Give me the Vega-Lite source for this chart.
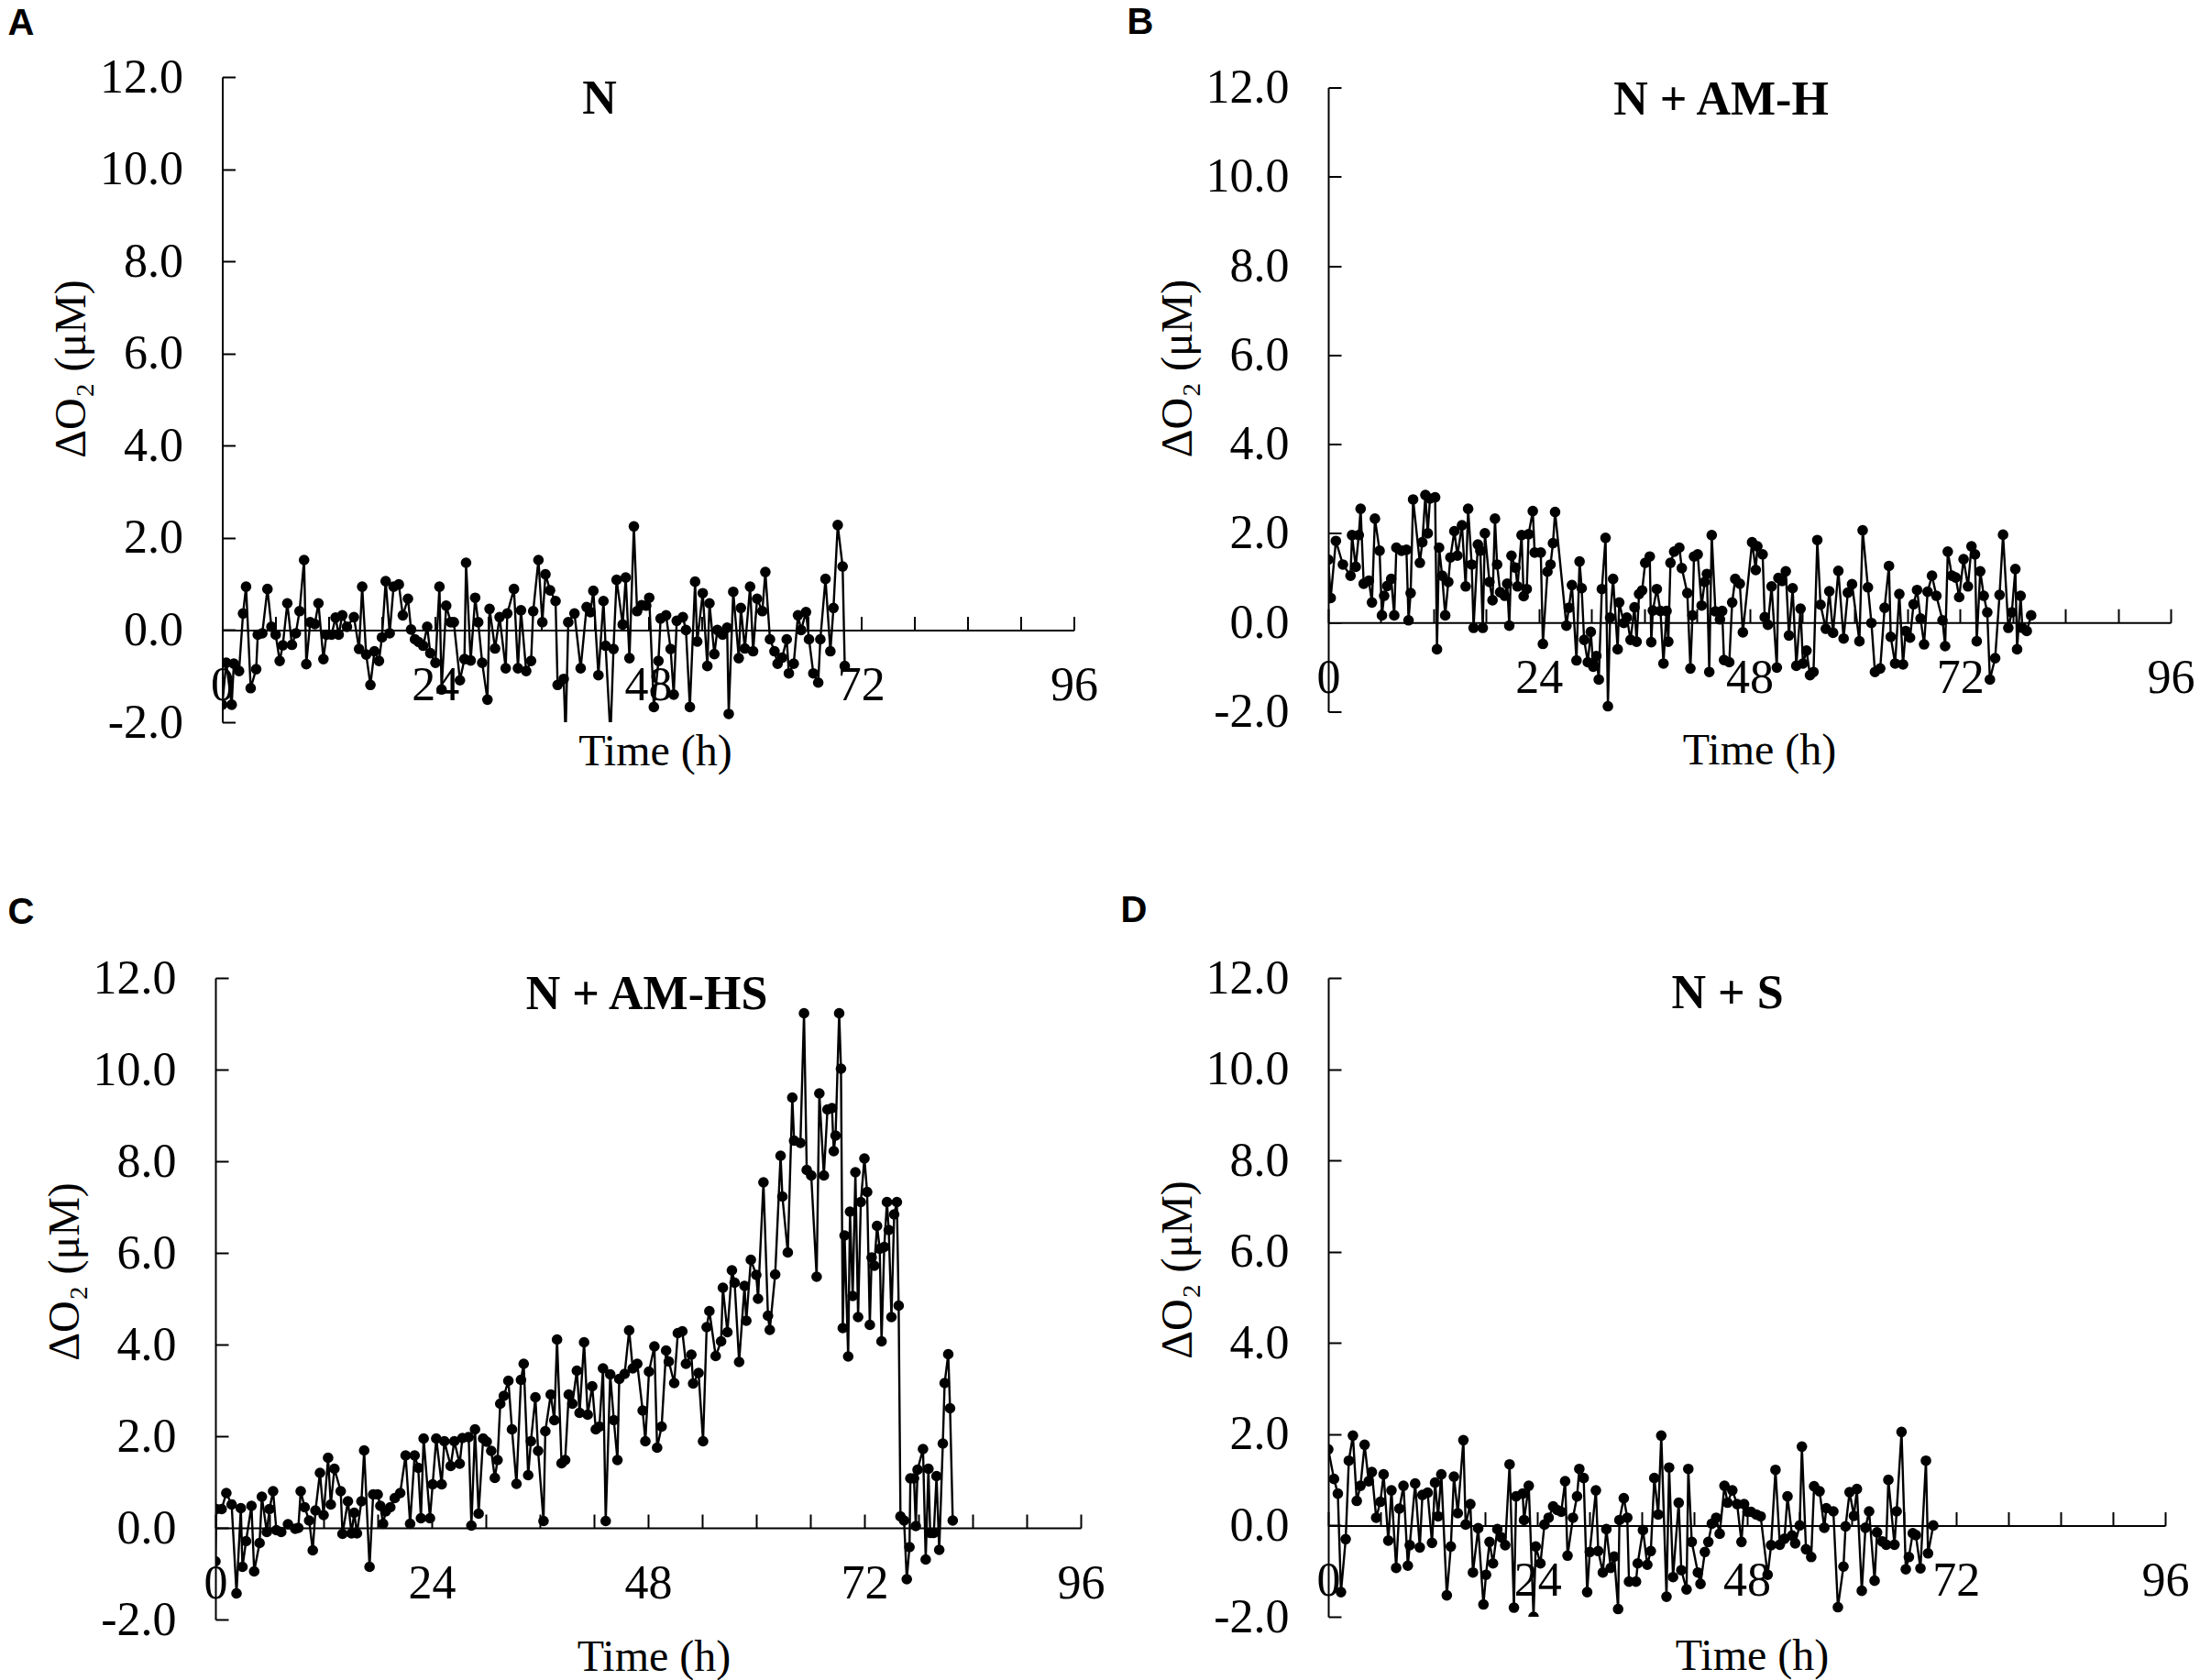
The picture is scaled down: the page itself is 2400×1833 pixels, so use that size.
{
  "$schema": "https://vega.github.io/schema/vega-lite/v6.json",
  "background": "white",
  "padding": {"left": 8, "top": 4, "right": 5, "bottom": 5},
  "columns": 2,
  "spacing": {"row": 279, "column": 270},
  "bounds": "flush",
  "center": true,
  "datasets": {
    "A": [
      {"t":0,"v":-1.62},{"t":0.44,"v":-0.71},{"t":1.06,"v":-1.62},{"t":1.3,"v":-0.73},{"t":1.89,"v":-0.89},{"t":2.34,"v":0.36},{"t":2.68,"v":0.94},{"t":3.2,"v":-1.26},{"t":3.82,"v":-0.85},{"t":4.0,"v":-0.1},
      {"t":4.51,"v":-0.07},{"t":5.09,"v":0.89},{"t":5.54,"v":0.07},{"t":6.02,"v":-0.1},{"t":6.47,"v":-0.67},{"t":6.82,"v":-0.33},{"t":7.33,"v":0.58},{"t":7.85,"v":-0.32},{"t":8.29,"v":-0.07},{"t":8.71,"v":0.41},
      {"t":9.22,"v":1.52},{"t":9.47,"v":-0.74},{"t":9.91,"v":0.17},{"t":10.43,"v":0.13},{"t":10.84,"v":0.58},{"t":11.4,"v":-0.63},{"t":11.74,"v":-0.1},{"t":12.32,"v":-0.1},{"t":12.77,"v":0.27},{"t":13.12,"v":-0.1},
      {"t":13.53,"v":0.32},{"t":14.05,"v":0.07},{"t":14.84,"v":0.28},{"t":15.42,"v":-0.41},{"t":15.77,"v":0.94},{"t":16.22,"v":-0.53},{"t":16.7,"v":-1.19},{"t":17.15,"v":-0.46},{"t":17.66,"v":-0.67},{"t":18.0,"v":-0.16},
      {"t":18.42,"v":1.06},{"t":18.87,"v":-0.07},{"t":19.31,"v":0.94},{"t":19.9,"v":0.99},{"t":20.35,"v":0.32},{"t":20.93,"v":0.68},{"t":21.28,"v":0.01},{"t":21.72,"v":-0.2},{"t":22.14,"v":-0.26},{"t":22.65,"v":-0.34},
      {"t":23.1,"v":0.07},{"t":23.45,"v":-0.5},{"t":24.03,"v":-0.71},{"t":24.48,"v":0.94},{"t":24.72,"v":-1.29},{"t":25.24,"v":0.53},{"t":25.75,"v":0.17},{"t":26.1,"v":0.17},{"t":26.79,"v":-1.09},{"t":27.3,"v":-0.63},
      {"t":27.48,"v":1.46},{"t":28.0,"v":-0.66},{"t":28.51,"v":0.7},{"t":28.85,"v":0.17},{"t":29.3,"v":-0.71},{"t":29.89,"v":-1.51},{"t":30.13,"v":0.46},{"t":30.75,"v":-0.4},{"t":31.26,"v":0.28},{"t":31.95,"v":-0.83},
      {"t":32.13,"v":0.36},{"t":32.88,"v":0.89},{"t":33.33,"v":-0.83},{"t":33.67,"v":0.43},{"t":34.26,"v":-0.89},{"t":34.81,"v":-0.67},{"t":35.05,"v":0.41},{"t":35.64,"v":1.52},{"t":36.08,"v":0.17},{"t":36.43,"v":1.21},
      {"t":36.95,"v":0.86},{"t":37.57,"v":0.63},{"t":37.8,"v":-1.19},{"t":38.49,"v":-1.06},{"t":38.7,"v":-2.3},{"t":39.0,"v":0.17},{"t":39.7,"v":0.36},{"t":40.4,"v":-0.83},{"t":41.07,"v":0.5},{"t":41.5,"v":0.39},
      {"t":41.83,"v":0.85},{"t":42.4,"v":-0.98},{"t":42.97,"v":0.63},{"t":43.21,"v":-0.34},{"t":43.76,"v":-2.3},{"t":44.1,"v":-0.41},{"t":44.45,"v":1.09},{"t":45.14,"v":0.12},{"t":45.48,"v":1.14},{"t":45.9,"v":-0.61},
      {"t":46.4,"v":2.25},{"t":46.76,"v":0.41},{"t":47.27,"v":0.54},{"t":47.79,"v":0.53},{"t":48.13,"v":0.7},{"t":48.65,"v":-1.67},{"t":49.17,"v":-0.67},{"t":49.41,"v":0.25},{"t":50.03,"v":0.32},{"t":50.54,"v":-0.41},
      {"t":50.89,"v":-1.4},{"t":51.23,"v":0.2},{"t":51.92,"v":0.28},{"t":52.27,"v":0.0},{"t":52.71,"v":-1.67},{"t":53.3,"v":1.05},{"t":53.54,"v":-0.25},{"t":54.16,"v":0.8},{"t":54.68,"v":-0.78},{"t":54.92,"v":0.58},
      {"t":55.47,"v":-0.52},{"t":55.81,"v":0.0},{"t":56.4,"v":-0.1},{"t":56.91,"v":0.05},{"t":57.09,"v":-1.82},{"t":57.6,"v":0.83},{"t":58.22,"v":-0.61},{"t":58.46,"v":0.48},{"t":58.91,"v":-0.4},{"t":59.5,"v":0.94},
      {"t":59.84,"v":-0.46},{"t":60.29,"v":0.68},{"t":60.88,"v":0.41},{"t":61.22,"v":1.26},{"t":61.74,"v":-0.2},{"t":62.25,"v":-0.46},{"t":62.6,"v":-0.73},{"t":63.11,"v":-0.6},{"t":63.63,"v":-0.2},{"t":63.87,"v":-0.94},
      {"t":64.42,"v":-0.73},{"t":64.9,"v":0.32},{"t":65.25,"v":0.0},{"t":65.8,"v":0.39},{"t":66.14,"v":-0.2},{"t":66.63,"v":-0.94},{"t":67.18,"v":-1.14},{"t":67.42,"v":-0.2},{"t":68.0,"v":1.11},{"t":68.55,"v":-0.46},
      {"t":68.9,"v":0.48},{"t":69.38,"v":2.28},{"t":69.93,"v":1.38},{"t":70.17,"v":-0.78}
    ],
    "B": [
      {"t":0,"v":1.41},{"t":0.28,"v":0.55},{"t":0.87,"v":1.83},{"t":1.67,"v":1.3},{"t":2.54,"v":1.05},{"t":2.71,"v":1.96},{"t":3.13,"v":1.25},{"t":3.48,"v":1.96},{"t":3.69,"v":2.55},{"t":4.04,"v":0.87},
      {"t":4.63,"v":0.94},{"t":4.98,"v":0.45},{"t":5.32,"v":2.33},{"t":5.85,"v":1.61},{"t":6.12,"v":0.16},{"t":6.37,"v":0.6},{"t":6.72,"v":0.82},{"t":7.17,"v":0.98},{"t":7.52,"v":0.16},{"t":7.76,"v":1.68},
      {"t":8.35,"v":1.61},{"t":8.91,"v":1.63},{"t":9.15,"v":0.05},{"t":9.39,"v":0.66},{"t":9.67,"v":2.76},{"t":10.44,"v":1.34},{"t":10.72,"v":1.8},{"t":11.07,"v":2.86},{"t":11.34,"v":2.0},{"t":11.59,"v":2.78},
      {"t":12.18,"v":2.81},{"t":12.39,"v":-0.6},{"t":12.63,"v":1.68},{"t":12.98,"v":1.05},{"t":13.33,"v":0.16},{"t":13.68,"v":0.91},{"t":13.92,"v":1.46},{"t":14.37,"v":2.05},{"t":14.72,"v":1.5},{"t":15.24,"v":2.18},
      {"t":15.66,"v":0.81},{"t":15.94,"v":2.55},{"t":16.35,"v":1.3},{"t":16.56,"v":-0.12},{"t":17.05,"v":1.75},{"t":17.33,"v":1.61},{"t":17.61,"v":-0.12},{"t":17.85,"v":2.0},{"t":18.37,"v":0.91},{"t":18.72,"v":0.5},
      {"t":19.0,"v":2.33},{"t":19.24,"v":1.3},{"t":19.59,"v":0.68},{"t":20.11,"v":0.6},{"t":20.39,"v":0.87},{"t":20.63,"v":-0.07},{"t":20.88,"v":1.5},{"t":21.33,"v":1.23},{"t":21.57,"v":0.81},{"t":22.03,"v":1.96},
      {"t":22.27,"v":0.59},{"t":22.62,"v":0.75},{"t":22.83,"v":1.98},{"t":23.31,"v":2.5},{"t":23.52,"v":1.57},{"t":24.22,"v":1.57},{"t":24.46,"v":-0.48},{"t":24.98,"v":1.14},{"t":25.33,"v":1.3},{"t":25.61,"v":1.78},
      {"t":25.85,"v":2.48},{"t":27.14,"v":-0.07},{"t":27.42,"v":0.33},{"t":27.77,"v":0.84},{"t":28.29,"v":-0.85},{"t":28.64,"v":1.37},{"t":28.88,"v":0.77},{"t":29.16,"v":-0.39},{"t":29.58,"v":-0.89},{"t":29.92,"v":-0.21},
      {"t":30.2,"v":-0.99},{"t":30.55,"v":-0.75},{"t":30.83,"v":-1.28},{"t":31.18,"v":0.75},{"t":31.6,"v":1.9},{"t":31.87,"v":-1.88},{"t":32.12,"v":0.11},{"t":32.46,"v":0.98},{"t":32.98,"v":-0.6},{"t":33.16,"v":0.45},
      {"t":33.68,"v":-0.01},{"t":34.03,"v":0.11},{"t":34.45,"v":-0.39},{"t":34.9,"v":0.34},{"t":35.14,"v":-0.43},{"t":35.42,"v":0.64},{"t":35.77,"v":0.72},{"t":36.12,"v":1.34},{"t":36.64,"v":1.48},{"t":36.81,"v":-0.44},
      {"t":36.99,"v":0.27},{"t":37.44,"v":0.75},{"t":37.86,"v":0.26},{"t":38.2,"v":-0.92},{"t":38.55,"v":0.26},{"t":38.75,"v":-0.43},{"t":39.0,"v":1.34},{"t":39.42,"v":1.59},{"t":40.01,"v":1.68},{"t":40.29,"v":1.22},
      {"t":40.92,"v":0.66},{"t":41.27,"v":-1.03},{"t":41.51,"v":0.16},{"t":41.68,"v":1.48},{"t":42.1,"v":1.53},{"t":42.55,"v":0.38},{"t":42.9,"v":0.91},{"t":43.15,"v":1.09},{"t":43.42,"v":-1.11},{"t":43.7,"v":1.96},
      {"t":44.12,"v":0.25},{"t":44.64,"v":0.07},{"t":44.89,"v":0.26},{"t":45.1,"v":-0.84},{"t":45.7,"v":-0.89},{"t":46.03,"v":0.45},{"t":46.38,"v":0.98},{"t":46.9,"v":0.87},{"t":47.25,"v":-0.22},{"t":48.3,"v":1.8},
      {"t":48.72,"v":1.18},{"t":48.9,"v":1.71},{"t":49.5,"v":1.53},{"t":49.74,"v":0.12},{"t":50.1,"v":-0.05},{"t":50.52,"v":0.81},{"t":51.12,"v":-1.01},{"t":51.3,"v":1.0},{"t":51.72,"v":0.93},{"t":52.14,"v":1.15},
      {"t":52.5,"v":-0.29},{"t":52.92,"v":0.77},{"t":53.34,"v":-0.97},{"t":53.82,"v":0.31},{"t":54.1,"v":-0.92},{"t":54.5,"v":-0.63},{"t":54.9,"v":-1.18},{"t":55.3,"v":-1.11},{"t":55.73,"v":1.85},{"t":56.1,"v":0.4},
      {"t":56.7,"v":-0.14},{"t":57.1,"v":0.7},{"t":57.53,"v":-0.23},{"t":58.13,"v":1.16},{"t":58.73,"v":-0.36},{"t":59.21,"v":0.67},{"t":59.69,"v":0.86},{"t":60.53,"v":-0.42},{"t":60.9,"v":2.07},{"t":61.5,"v":0.79},
      {"t":61.9,"v":-0.01},{"t":62.3,"v":-1.11},{"t":62.9,"v":-1.03},{"t":63.4,"v":0.33},{"t":63.9,"v":1.27},{"t":64.1,"v":-0.32},{"t":64.6,"v":-0.92},{"t":65.08,"v":0.64},{"t":65.5,"v":-0.94},{"t":65.8,"v":-0.19},
      {"t":66.3,"v":-0.34},{"t":66.7,"v":0.41},{"t":67.1,"v":0.73},{"t":67.5,"v":0.09},{"t":67.9,"v":-0.49},{"t":68.3,"v":0.69},{"t":68.8,"v":1.05},{"t":69.3,"v":0.6},{"t":70.0,"v":0.05},{"t":70.3,"v":-0.53},
      {"t":70.6,"v":1.59},{"t":71.07,"v":1.05},{"t":71.5,"v":1.01},{"t":71.9,"v":0.57},{"t":72.4,"v":1.42},{"t":72.9,"v":0.81},{"t":73.3,"v":1.71},{"t":73.7,"v":1.53},{"t":73.9,"v":-0.42},{"t":74.3,"v":1.15},
      {"t":74.7,"v":0.6},{"t":75.1,"v":0.23},{"t":75.4,"v":-1.28},{"t":76.0,"v":-0.8},{"t":76.5,"v":0.62},{"t":76.9,"v":1.97},{"t":77.5,"v":-0.12},{"t":77.9,"v":0.23},{"t":78.3,"v":1.2},{"t":78.5,"v":-0.6},
      {"t":78.9,"v":0.6},{"t":79.1,"v":-0.12},{"t":79.6,"v":-0.19},{"t":80.1,"v":0.16}
    ],
    "C": [
      {"t":0,"v":-0.73},{"t":0.1,"v":0.41},{"t":0.69,"v":0.41},{"t":1.21,"v":0.76},{"t":1.8,"v":0.51},{"t":2.34,"v":-1.43},{"t":2.82,"v":0.43},{"t":3.0,"v":-0.85},{"t":3.4,"v":-0.29},{"t":4.0,"v":0.48},
      {"t":4.3,"v":-0.95},{"t":4.9,"v":-0.33},{"t":5.15,"v":0.68},{"t":5.7,"v":-0.09},{"t":6.0,"v":0.41},{"t":6.4,"v":0.8},{"t":6.76,"v":-0.05},{"t":7.3,"v":-0.09},{"t":8.05,"v":0.08},{"t":8.85,"v":-0.02},
      {"t":9.2,"v":0.0},{"t":9.46,"v":0.8},{"t":9.9,"v":0.45},{"t":10.4,"v":0.16},{"t":10.8,"v":-0.49},{"t":11.1,"v":0.38},{"t":11.6,"v":1.2},{"t":12.0,"v":0.28},{"t":12.5,"v":1.53},{"t":12.8,"v":0.51},
      {"t":13.2,"v":1.29},{"t":13.9,"v":0.8},{"t":14.1,"v":-0.13},{"t":14.7,"v":0.58},{"t":15.1,"v":-0.12},{"t":15.4,"v":0.33},{"t":15.7,"v":-0.12},{"t":16.2,"v":0.58},{"t":16.5,"v":1.69},{"t":17.1,"v":-0.85},
      {"t":17.5,"v":0.73},{"t":18.0,"v":0.73},{"t":18.3,"v":0.48},{"t":18.6,"v":0.09},{"t":18.9,"v":0.36},{"t":19.4,"v":0.45},{"t":19.9,"v":0.65},{"t":20.5,"v":0.76},{"t":21.1,"v":1.58},{"t":21.6,"v":0.09},
      {"t":22.1,"v":1.58},{"t":22.5,"v":1.31},{"t":22.8,"v":0.21},{"t":23.1,"v":1.95},{"t":23.8,"v":0.21},{"t":24.1,"v":0.95},{"t":24.5,"v":1.95},{"t":25.1,"v":0.95},{"t":25.4,"v":1.89},{"t":26.1,"v":1.35},
      {"t":26.5,"v":1.89},{"t":27.1,"v":1.4},{"t":27.4,"v":1.96},{"t":28.1,"v":1.98},{"t":28.4,"v":0.05},{"t":28.8,"v":2.15},{"t":29.2,"v":0.31},{"t":29.7,"v":1.95},{"t":30.1,"v":1.88},{"t":30.6,"v":1.68},
      {"t":31.0,"v":1.09},{"t":31.3,"v":1.48},{"t":31.6,"v":2.71},{"t":32.0,"v":2.88},{"t":32.5,"v":3.21},{"t":32.9,"v":2.15},{"t":33.4,"v":0.96},{"t":33.9,"v":3.23},{"t":34.2,"v":3.58},{"t":34.7,"v":1.15},
      {"t":35.0,"v":1.89},{"t":35.5,"v":2.85},{"t":35.8,"v":1.68},{"t":36.4,"v":0.15},{"t":36.6,"v":2.11},{"t":37.2,"v":2.91},{"t":37.6,"v":2.35},{"t":37.9,"v":4.11},{"t":38.4,"v":1.41},{"t":38.8,"v":1.48},
      {"t":39.2,"v":2.91},{"t":39.6,"v":2.71},{"t":40.1,"v":3.43},{"t":40.4,"v":2.51},{"t":40.9,"v":4.05},{"t":41.3,"v":2.47},{"t":41.8,"v":3.09},{"t":42.2,"v":2.15},{"t":42.6,"v":2.21},{"t":43.0,"v":3.48},
      {"t":43.3,"v":0.15},{"t":43.8,"v":3.35},{"t":44.2,"v":2.35},{"t":44.6,"v":1.48},{"t":44.8,"v":3.25},{"t":45.4,"v":3.36},{"t":45.9,"v":4.31},{"t":46.3,"v":3.48},{"t":46.8,"v":3.58},{"t":47.4,"v":2.56},
      {"t":47.7,"v":1.89},{"t":48.1,"v":3.41},{"t":48.7,"v":3.96},{"t":49.0,"v":1.75},{"t":49.5,"v":2.21},{"t":50.0,"v":3.87},{"t":50.3,"v":3.63},{"t":50.9,"v":3.16},{"t":51.3,"v":4.25},{"t":51.8,"v":4.29},
      {"t":52.2,"v":3.58},{"t":52.8,"v":3.78},{"t":53.0,"v":3.15},{"t":53.6,"v":3.38},{"t":54.1,"v":1.89},{"t":54.5,"v":4.38},{"t":54.8,"v":4.73},{"t":55.5,"v":3.75},{"t":56.1,"v":4.07},{"t":56.3,"v":5.24},
      {"t":56.8,"v":4.27},{"t":57.3,"v":5.62},{"t":57.6,"v":5.35},{"t":58.1,"v":3.62},{"t":58.7,"v":5.28},{"t":58.9,"v":4.52},{"t":59.4,"v":5.85},{"t":60.0,"v":5.52},{"t":60.2,"v":5.0},{"t":60.8,"v":7.54},
      {"t":61.3,"v":4.63},{"t":61.5,"v":4.32},{"t":62.1,"v":5.53},{"t":62.7,"v":8.12},{"t":62.9,"v":7.23},{"t":63.5,"v":6.01},{"t":64.0,"v":9.39},{"t":64.2,"v":8.45},{"t":64.9,"v":8.4},{"t":65.3,"v":11.23},
      {"t":65.6,"v":7.81},{"t":66.1,"v":7.69},{"t":66.7,"v":5.48},{"t":67.0,"v":9.48},{"t":67.5,"v":7.69},{"t":67.9,"v":9.13},{"t":68.4,"v":9.16},{"t":68.6,"v":8.22},{"t":68.8,"v":8.56},{"t":69.2,"v":11.23},
      {"t":69.4,"v":10.02},{"t":69.6,"v":4.36},{"t":69.8,"v":6.38},{"t":70.2,"v":3.74},{"t":70.4,"v":6.9},{"t":70.7,"v":5.06},{"t":71.0,"v":7.76},{"t":71.3,"v":4.6},{"t":71.6,"v":7.11},{"t":72.0,"v":8.06},
      {"t":72.3,"v":7.33},{"t":72.6,"v":4.43},{"t":72.8,"v":5.9},{"t":73.1,"v":5.72},{"t":73.4,"v":6.59},{"t":73.7,"v":6.09},{"t":73.9,"v":4.07},{"t":74.2,"v":6.13},{"t":74.5,"v":7.11},{"t":74.7,"v":6.5},
      {"t":75.0,"v":4.6},{"t":75.3,"v":6.84},{"t":75.6,"v":7.11},{"t":75.8,"v":4.85},{"t":76.0,"v":0.25},{"t":76.4,"v":0.16},{"t":76.7,"v":-1.12},{"t":77.0,"v":-0.42},{"t":77.1,"v":1.08},{"t":77.5,"v":1.08},
      {"t":77.7,"v":0.04},{"t":77.9,"v":1.27},{"t":78.5,"v":1.72},{"t":78.8,"v":-0.69},{"t":79.1,"v":1.29},{"t":79.3,"v":-0.11},{"t":79.7,"v":-0.11},{"t":80.0,"v":1.13},{"t":80.3,"v":-0.48},{"t":80.7,"v":1.84},
      {"t":80.9,"v":3.16},{"t":81.3,"v":3.79},{"t":81.5,"v":2.61},{"t":81.8,"v":0.16}
    ],
    "D": [
      {"t":0,"v":1.67},{"t":0.66,"v":1.02},{"t":1.1,"v":0.7},{"t":1.46,"v":-1.46},{"t":2.0,"v":-0.3},{"t":2.36,"v":1.42},{"t":2.83,"v":1.97},{"t":3.27,"v":0.54},{"t":3.7,"v":0.87},{"t":4.17,"v":1.77},
      {"t":4.64,"v":0.97},{"t":5.0,"v":1.17},{"t":5.5,"v":0.17},{"t":5.98,"v":0.52},{"t":6.35,"v":1.12},{"t":6.89,"v":-0.33},{"t":7.25,"v":0.77},{"t":7.79,"v":-0.93},{"t":8.16,"v":0.37},{"t":8.63,"v":0.87},
      {"t":9.13,"v":-0.88},{"t":9.35,"v":-0.43},{"t":9.97,"v":0.92},{"t":10.5,"v":-0.48},{"t":10.8,"v":0.67},{"t":11.4,"v":0.72},{"t":11.9,"v":-0.38},{"t":12.25,"v":0.94},{"t":12.6,"v":0.2},{"t":12.97,"v":1.12},
      {"t":13.6,"v":-1.53},{"t":14.06,"v":-0.46},{"t":14.42,"v":1.07},{"t":14.86,"v":0.27},{"t":15.5,"v":1.87},{"t":15.76,"v":0.02},{"t":16.3,"v":0.47},{"t":16.6,"v":-1.03},{"t":17.2,"v":-0.06},{"t":17.8,"v":-1.73},
      {"t":18.1,"v":-1.08},{"t":18.5,"v":-0.36},{"t":18.9,"v":-0.83},{"t":19.4,"v":-0.08},{"t":19.85,"v":-0.26},{"t":20.3,"v":-0.43},{"t":20.8,"v":1.34},{"t":21.3,"v":-1.8},{"t":21.55,"v":0.64},{"t":22.3,"v":0.7},
      {"t":22.46,"v":0.12},{"t":23.0,"v":0.87},{"t":23.55,"v":-2.0},{"t":23.8,"v":-0.46},{"t":24.34,"v":-0.83},{"t":24.8,"v":0.02},{"t":25.28,"v":0.17},{"t":25.8,"v":0.42},{"t":26.26,"v":0.34},{"t":26.73,"v":0.3},
      {"t":27.17,"v":0.97},{"t":27.45,"v":-0.66},{"t":28.07,"v":0.17},{"t":28.54,"v":0.64},{"t":28.8,"v":1.24},{"t":29.3,"v":1.04},{"t":29.7,"v":-1.46},{"t":30.0,"v":-0.58},{"t":30.7,"v":0.77},{"t":30.97,"v":-0.56},
      {"t":31.5,"v":-1.03},{"t":31.9,"v":-0.08},{"t":32.4,"v":-0.93},{"t":32.8,"v":-0.68},{"t":33.25,"v":-1.83},{"t":33.4,"v":0.12},{"t":33.9,"v":0.6},{"t":34.3,"v":0.17},{"t":34.5,"v":-1.23},{"t":35.3,"v":-1.23},
      {"t":35.5,"v":-0.83},{"t":36.1,"v":-0.1},{"t":36.6,"v":-0.86},{"t":37.0,"v":-0.56},{"t":37.4,"v":1.04},{"t":37.85,"v":0.24},{"t":38.2,"v":1.97},{"t":38.8,"v":-1.56},{"t":39.1,"v":1.27},{"t":39.55,"v":-1.13},
      {"t":40.2,"v":0.5},{"t":40.5,"v":-0.98},{"t":41.1,"v":-1.4},{"t":41.3,"v":1.24},{"t":41.7,"v":-0.36},{"t":42.4,"v":-1.03},{"t":42.7,"v":-1.28},{"t":43.2,"v":-0.58},{"t":43.6,"v":-0.36},{"t":44.0,"v":0.04},
      {"t":44.5,"v":0.17},{"t":44.9,"v":-0.18},{"t":45.45,"v":0.87},{"t":45.8,"v":0.5},{"t":46.35,"v":0.77},{"t":46.9,"v":0.47},{"t":47.4,"v":-0.36},{"t":47.7,"v":0.47},{"t":48.1,"v":0.3},{"t":48.5,"v":0.3},
      {"t":49.1,"v":0.24},{"t":49.6,"v":0.2},{"t":50.4,"v":-1.08},{"t":50.8,"v":-0.43},{"t":51.3,"v":1.22},{"t":51.8,"v":-0.42},{"t":52.33,"v":-0.29},{"t":52.68,"v":0.64},{"t":53.2,"v":-0.22},{"t":53.56,"v":-0.39},
      {"t":54.08,"v":0.0},{"t":54.33,"v":1.73},{"t":54.8,"v":-0.52},{"t":55.4,"v":-0.69},{"t":55.73,"v":0.86},{"t":56.36,"v":0.75},{"t":56.9,"v":-0.05},{"t":57.13,"v":0.38},{"t":57.94,"v":0.31},{"t":58.46,"v":-1.79},
      {"t":59.1,"v":-0.9},{"t":59.34,"v":-0.02},{"t":59.8,"v":0.73},{"t":60.3,"v":0.21},{"t":60.64,"v":0.8},{"t":61.2,"v":-1.43},{"t":61.62,"v":-0.05},{"t":62.04,"v":0.31},{"t":62.67,"v":-1.21},{"t":62.95,"v":-0.15},
      {"t":63.55,"v":-0.35},{"t":64.0,"v":-0.42},{"t":64.25,"v":1.0},{"t":64.95,"v":-0.42},{"t":65.2,"v":0.31},{"t":65.76,"v":2.05},{"t":66.25,"v":-0.96},{"t":66.6,"v":-0.69},{"t":67.05,"v":-0.17},{"t":67.4,"v":-0.21},
      {"t":67.93,"v":-0.94},{"t":68.56,"v":1.42},{"t":68.8,"v":-0.61},{"t":69.4,"v":0.0}
    ]
  },
  "concat": [
    {
      "width": 929, "height": 704,
      "data": {"name": "A"},
      "layer": [
        {"mark": {"type": "line", "color": "black", "strokeWidth": 2.4, "clip": true},
         "encoding": {
           "x": {"field": "t", "type": "quantitative", "scale": {"domain": [0, 96], "nice": false},
             "axis": {"orient": "bottom", "offset": -100.57, "values": [0,6,12,18,24,30,36,42,48,54,60,66,72,78,84,90,96], "tickSize": -15, "labelPadding": 50, "labelBaseline": "top", "labelFlush": false, "labelExpr": "datum.value % 24 === 0 ? datum.label : ''", "title": "Time (h)", "titleX": 472, "titleY": 147, "titleBaseline": "alphabetic", "titleAlign": "center"}},
           "y": {"field": "v", "type": "quantitative", "scale": {"domain": [-2, 12], "nice": false, "zero": false},
             "axis": {"orient": "left", "values": [-2,0,2,4,6,8,10,12], "tickSize": -14, "labelPadding": 57, "labelExpr": "(datum.value < 0 ? '-' : '') + format(abs(datum.value), '.1f')", "title": "ΔO₂ (μM)", "titleX": -164, "titleY": 318, "titleAngle": -90, "titleBaseline": "middle", "titleAlign": "center"}}
         }},
        {"mark": {"type": "point", "filled": true, "color": "black", "opacity": 1, "size": 135, "clip": true},
         "encoding": {
           "x": {"field": "t", "type": "quantitative",
             "axis": {"orient": "top", "domain": false, "ticks": false, "labels": false, "title": "N", "titleFontWeight": "bold", "titleFontSize": 52, "titleX": 411, "titleY": 39, "titleBaseline": "alphabetic", "titleAlign": "center"}},
           "y": {"field": "v", "type": "quantitative",
             "axis": {"orient": "right", "domain": false, "ticks": false, "labels": false, "title": "A", "titleFont": "Liberation Sans", "titleFontWeight": "bold", "titleFontSize": 40, "titleAngle": 0, "titleX": -1163.5, "titleY": -47, "titleAlign": "left", "titleBaseline": "alphabetic"}}
         }}
      ],
      "resolve": {"axis": {"x": "independent", "y": "independent"}}
    },
    {
      "width": 919, "height": 681,
      "data": {"name": "B"},
      "layer": [
        {"mark": {"type": "line", "color": "black", "strokeWidth": 2.4, "clip": true},
         "encoding": {
           "x": {"field": "t", "type": "quantitative", "scale": {"domain": [0, 96], "nice": false},
             "axis": {"orient": "bottom", "offset": -97.29, "values": [0,6,12,18,24,30,36,42,48,54,60,66,72,78,84,90,96], "tickSize": -15, "labelPadding": 50, "labelBaseline": "top", "labelFlush": false, "labelExpr": "datum.value % 24 === 0 ? datum.label : ''", "title": "Time (h)", "titleX": 470, "titleY": 154, "titleBaseline": "alphabetic", "titleAlign": "center"}},
           "y": {"field": "v", "type": "quantitative", "scale": {"domain": [-2, 12], "nice": false, "zero": false},
             "axis": {"orient": "left", "values": [-2,0,2,4,6,8,10,12], "tickSize": -14, "labelPadding": 57, "labelExpr": "(datum.value < 0 ? '-' : '') + format(abs(datum.value), '.1f')", "title": "ΔO₂ (μM)", "titleX": -164, "titleY": 306, "titleAngle": -90, "titleBaseline": "middle", "titleAlign": "center"}}
         }},
        {"mark": {"type": "point", "filled": true, "color": "black", "opacity": 1, "size": 135, "clip": true},
         "encoding": {
           "x": {"field": "t", "type": "quantitative",
             "axis": {"orient": "top", "domain": false, "ticks": false, "labels": false, "title": "N + AM-H", "titleFontWeight": "bold", "titleFontSize": 52, "titleX": 428, "titleY": 29, "titleBaseline": "alphabetic", "titleAlign": "center"}},
           "y": {"field": "v", "type": "quantitative",
             "axis": {"orient": "right", "domain": false, "ticks": false, "labels": false, "title": "B", "titleFont": "Liberation Sans", "titleFontWeight": "bold", "titleFontSize": 40, "titleAngle": 0, "titleX": -1139, "titleY": -58.8, "titleAlign": "left", "titleBaseline": "alphabetic"}}
         }}
      ],
      "resolve": {"axis": {"x": "independent", "y": "independent"}}
    },
    {
      "width": 944, "height": 700,
      "data": {"name": "C"},
      "layer": [
        {"mark": {"type": "line", "color": "black", "strokeWidth": 2.4, "clip": true},
         "encoding": {
           "x": {"field": "t", "type": "quantitative", "scale": {"domain": [0, 96], "nice": false},
             "axis": {"orient": "bottom", "offset": -100, "values": [0,6,12,18,24,30,36,42,48,54,60,66,72,78,84,90,96], "tickSize": -15, "labelPadding": 50, "labelBaseline": "top", "labelFlush": false, "labelExpr": "datum.value % 24 === 0 ? datum.label : ''", "title": "Time (h)", "titleX": 478, "titleY": 155, "titleBaseline": "alphabetic", "titleAlign": "center"}},
           "y": {"field": "v", "type": "quantitative", "scale": {"domain": [-2, 12], "nice": false, "zero": false},
             "axis": {"orient": "left", "values": [-2,0,2,4,6,8,10,12], "tickSize": -14, "labelPadding": 57, "labelExpr": "(datum.value < 0 ? '-' : '') + format(abs(datum.value), '.1f')", "title": "ΔO₂ (μM)", "titleX": -164, "titleY": 320, "titleAngle": -90, "titleBaseline": "middle", "titleAlign": "center"}}
         }},
        {"mark": {"type": "point", "filled": true, "color": "black", "opacity": 1, "size": 135, "clip": true},
         "encoding": {
           "x": {"field": "t", "type": "quantitative",
             "axis": {"orient": "top", "domain": false, "ticks": false, "labels": false, "title": "N + AM-HS", "titleFontWeight": "bold", "titleFontSize": 52, "titleX": 470, "titleY": 33, "titleBaseline": "alphabetic", "titleAlign": "center"}},
           "y": {"field": "v", "type": "quantitative",
             "axis": {"orient": "right", "domain": false, "ticks": false, "labels": false, "title": "C", "titleFont": "Liberation Sans", "titleFontWeight": "bold", "titleFontSize": 40, "titleAngle": 0, "titleX": -1171, "titleY": -60, "titleAlign": "left", "titleBaseline": "alphabetic"}}
         }}
      ],
      "resolve": {"axis": {"x": "independent", "y": "independent"}}
    },
    {
      "width": 913, "height": 697,
      "data": {"name": "D"},
      "layer": [
        {"mark": {"type": "line", "color": "black", "strokeWidth": 2.4, "clip": true},
         "encoding": {
           "x": {"field": "t", "type": "quantitative", "scale": {"domain": [0, 96], "nice": false},
             "axis": {"orient": "bottom", "offset": -99.57, "values": [0,6,12,18,24,30,36,42,48,54,60,66,72,78,84,90,96], "tickSize": -15, "labelPadding": 50, "labelBaseline": "top", "labelFlush": false, "labelExpr": "datum.value % 24 === 0 ? datum.label : ''", "title": "Time (h)", "titleX": 462, "titleY": 157, "titleBaseline": "alphabetic", "titleAlign": "center"}},
           "y": {"field": "v", "type": "quantitative", "scale": {"domain": [-2, 12], "nice": false, "zero": false},
             "axis": {"orient": "left", "values": [-2,0,2,4,6,8,10,12], "tickSize": -14, "labelPadding": 57, "labelExpr": "(datum.value < 0 ? '-' : '') + format(abs(datum.value), '.1f')", "title": "ΔO₂ (μM)", "titleX": -164, "titleY": 318, "titleAngle": -90, "titleBaseline": "middle", "titleAlign": "center"}}
         }},
        {"mark": {"type": "point", "filled": true, "color": "black", "opacity": 1, "size": 135, "clip": true},
         "encoding": {
           "x": {"field": "t", "type": "quantitative",
             "axis": {"orient": "top", "domain": false, "ticks": false, "labels": false, "title": "N + S", "titleFontWeight": "bold", "titleFontSize": 52, "titleX": 435, "titleY": 32, "titleBaseline": "alphabetic", "titleAlign": "center"}},
           "y": {"field": "v", "type": "quantitative",
             "axis": {"orient": "right", "domain": false, "ticks": false, "labels": false, "title": "D", "titleFont": "Liberation Sans", "titleFontWeight": "bold", "titleFontSize": 40, "titleAngle": 0, "titleX": -1140, "titleY": -61.5, "titleAlign": "left", "titleBaseline": "alphabetic"}}
         }}
      ],
      "resolve": {"axis": {"x": "independent", "y": "independent"}}
    }
  ],
  "config": {
    "view": {"stroke": null},
    "axis": {
      "grid": false,
      "domainColor": "black",
      "domainWidth": 2,
      "tickColor": "black",
      "tickWidth": 2,
      "labelFont": "Liberation Serif",
      "labelFontSize": 52,
      "labelColor": "black",
      "labelOverlap": false,
      "titleFont": "Liberation Serif",
      "titleFontSize": 48,
      "titleFontWeight": "normal",
      "titleColor": "black"
    }
  }
}
